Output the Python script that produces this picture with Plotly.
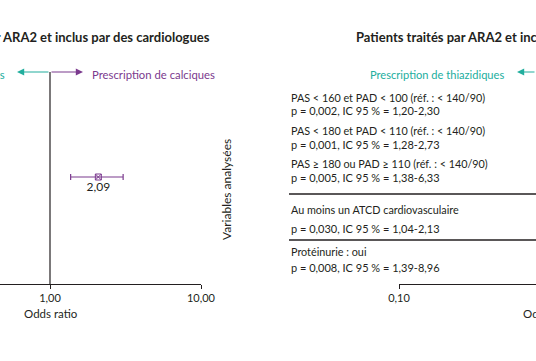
import math
import plotly.graph_objects as go

W, H = 536, 361

# ---------------- data ----------------
variables = [
    "PAS < 160 et PAD < 100 (réf. : < 140/90)",
    "PAS < 180 et PAD < 110 (réf. : < 140/90)",
    "PAS ≥ 180 ou PAD ≥ 110 (réf. : < 140/90)",
    "Au moins un ATCD cardiovasculaire",
    "Protéinurie : oui",
]
stats = [
    "p = 0,002, IC 95 % = 1,20-2,30",
    "p = 0,001, IC 95 % = 1,28-2,73",
    "p = 0,005, IC 95 % = 1,38-6,33",
    "p = 0,030, IC 95 % = 1,04-2,13",
    "p = 0,008, IC 95 % = 1,39-8,96",
]
left_or = [2.09]
left_lo = [1.37]
left_hi = [3.05]
left_row = [2]
left_text = ["2,09"]

left_ticks = [1, 10]
left_ticktext = ["1,00", "10,00"]
right_ticks = [0.1, 1]
right_ticktext = ["0,10", "1,00"]

title_left = "Patients traités par ARA2 et inclus par des cardiologues"
title_right = "Patients traités par ARA2 et inclus par des généralistes"
lbl_thz = "Prescription de thiazidiques"
lbl_cal = "Prescription de calciques"

# ---------------- layout helpers ----------------
TEAL = "#22ae9e"
PURPLE = "#7b3a8e"
INK = "#231f20"
FONT = "Lato"

def px(x):
    return x / W

def py(y):
    return 1 - y / H

PLOT_TOP, PLOT_BOT = 60, 284
row_name_px = [97, 130, 163, 209, 251]
row_stat_px = [111, 145, 178, 228, 267]
row_point_px = [104, 137, 177, 218, 259]
sep_px = [194, 240]

def yval(p):
    return PLOT_BOT - p

fig = go.Figure()

# left panel point with CI
fig.add_trace(go.Scatter(
    x=left_or,
    y=[yval(row_point_px[r]) for r in left_row],
    mode="markers+text",
    text=left_text,
    textposition="bottom center",
    textfont=dict(family=FONT, size=12, color=INK),
    marker=dict(symbol="square-x-open", size=6, color=PURPLE, line=dict(width=1, color=PURPLE)),
    error_x=dict(type="data", symmetric=False,
                 array=[h - o for h, o in zip(left_hi, left_or)],
                 arrayminus=[o - l for o, l in zip(left_or, left_lo)],
                 color=PURPLE, thickness=1.2, width=3),
    xaxis="x", yaxis="y", showlegend=False, cliponaxis=False,
))

# right panel axis holder (no visible points in this crop)
fig.add_trace(go.Scatter(x=[0.1], y=[0], mode="markers", marker=dict(opacity=0),
                         xaxis="x2", yaxis="y2", showlegend=False, hoverinfo="skip"))

d0 = 1 - PLOT_BOT / H
d1 = 1 - PLOT_TOP / H
dec = 151.0  # pixels per decade
left_lo_log = 1 - 201 / dec
right_hi_log = -1 + (W - 399) / dec

axis_common = dict(type="log", showgrid=False, zeroline=False, showline=True,
                   linecolor=INK, linewidth=1.2, ticks="outside", ticklen=4,
                   tickcolor=INK, tickwidth=1, automargin=False,
                   tickfont=dict(family=FONT, size=11, color=INK))

fig.update_layout(
    template="none",
    width=W, height=H,
    margin=dict(l=0, r=0, t=0, b=0, pad=0),
    paper_bgcolor="white", plot_bgcolor="white",
    font=dict(family=FONT, color=INK),
    xaxis=dict(domain=[0, 201 / W], range=[left_lo_log, 1],
               tickvals=left_ticks, ticktext=left_ticktext, anchor="y", **axis_common),
    yaxis=dict(domain=[d0, d1], range=[0, PLOT_BOT - PLOT_TOP], visible=False, automargin=False),
    xaxis2=dict(domain=[399 / W, 1], range=[-1, right_hi_log],
                tickvals=right_ticks, ticktext=right_ticktext, anchor="y2", **axis_common),
    yaxis2=dict(domain=[d0, d1], range=[0, PLOT_BOT - PLOT_TOP], visible=False, anchor="x2",
                automargin=False),
)

shapes = []
# reference line at OR = 1 on left panel
shapes.append(dict(type="line", xref="x", yref="paper", x0=1, x1=1,
                   y0=py(72), y1=py(PLOT_BOT), line=dict(color=INK, width=1.2)))
for s in sep_px:
    shapes.append(dict(type="line", xref="paper", yref="paper", x0=px(289), x1=1.05,
                       y0=py(s), y1=py(s), line=dict(color=INK, width=1.3)))
fig.update_layout(shapes=shapes)

ann = []
# titles
ann.append(dict(text="<b>" + title_left + "</b>", x=px(212), y=py(37), xref="paper", yref="paper",
                xanchor="right", yanchor="middle", showarrow=False,
                font=dict(family=FONT, size=13, color=INK)))
ann.append(dict(text="<b>" + title_right + "</b>", x=px(354), y=py(37), xref="paper", yref="paper",
                xanchor="left", yanchor="middle", showarrow=False,
                font=dict(family=FONT, size=13, color=INK)))
# direction labels
ann.append(dict(text=lbl_thz, x=px(7), y=py(74), xref="paper", yref="paper",
                xanchor="right", yanchor="middle", showarrow=False,
                font=dict(family=FONT, size=11.3, color=TEAL)))
ann.append(dict(text=lbl_cal, x=px(90), y=py(74), xref="paper", yref="paper",
                xanchor="left", yanchor="middle", showarrow=False,
                font=dict(family=FONT, size=11.3, color=PURPLE)))
ann.append(dict(text=lbl_thz, x=px(506), y=py(74), xref="paper", yref="paper",
                xanchor="right", yanchor="middle", showarrow=False,
                font=dict(family=FONT, size=11.1, color=TEAL)))
# arrows
for hx, off, col in [(17, 33, TEAL), (83, -33, PURPLE), (517, 33, TEAL)]:
    ann.append(dict(text="", x=px(hx), y=py(72), xref="paper", yref="paper",
                    ax=off, ay=0, showarrow=True, arrowhead=2, arrowsize=1.2,
                    arrowwidth=1.2, arrowcolor=col))
# variable labels
for name, st, yn, ys in zip(variables, stats, row_name_px, row_stat_px):
    ann.append(dict(text=name, x=px(289), y=py(yn), xref="paper", yref="paper",
                    xanchor="left", yanchor="middle", showarrow=False,
                    font=dict(family=FONT, size=10.8, color=INK)))
    ann.append(dict(text=st, x=px(289), y=py(ys), xref="paper", yref="paper",
                    xanchor="left", yanchor="middle", showarrow=False,
                    font=dict(family=FONT, size=11, color=INK)))
# vertical label
ann.append(dict(text="Variables analysées", x=px(226), y=py(190), xref="paper", yref="paper",
                textangle=-90, xanchor="center", yanchor="middle", showarrow=False,
                font=dict(family=FONT, size=12, color=INK)))
# axis titles
ann.append(dict(text="Odds ratio", x=px(51), y=py(313), xref="paper", yref="paper",
                xanchor="center", yanchor="middle", showarrow=False,
                font=dict(family=FONT, size=11.5, color=INK)))
ann.append(dict(text="Odds ratio", x=px(550), y=py(313), xref="paper", yref="paper",
                xanchor="center", yanchor="middle", showarrow=False,
                font=dict(family=FONT, size=11.5, color=INK)))
fig.update_layout(annotations=ann)

fig.write_html("out.html",
               config={"displayModeBar": False},
               post_script="document.body.style.margin='0';document.body.style.overflow='hidden';")
